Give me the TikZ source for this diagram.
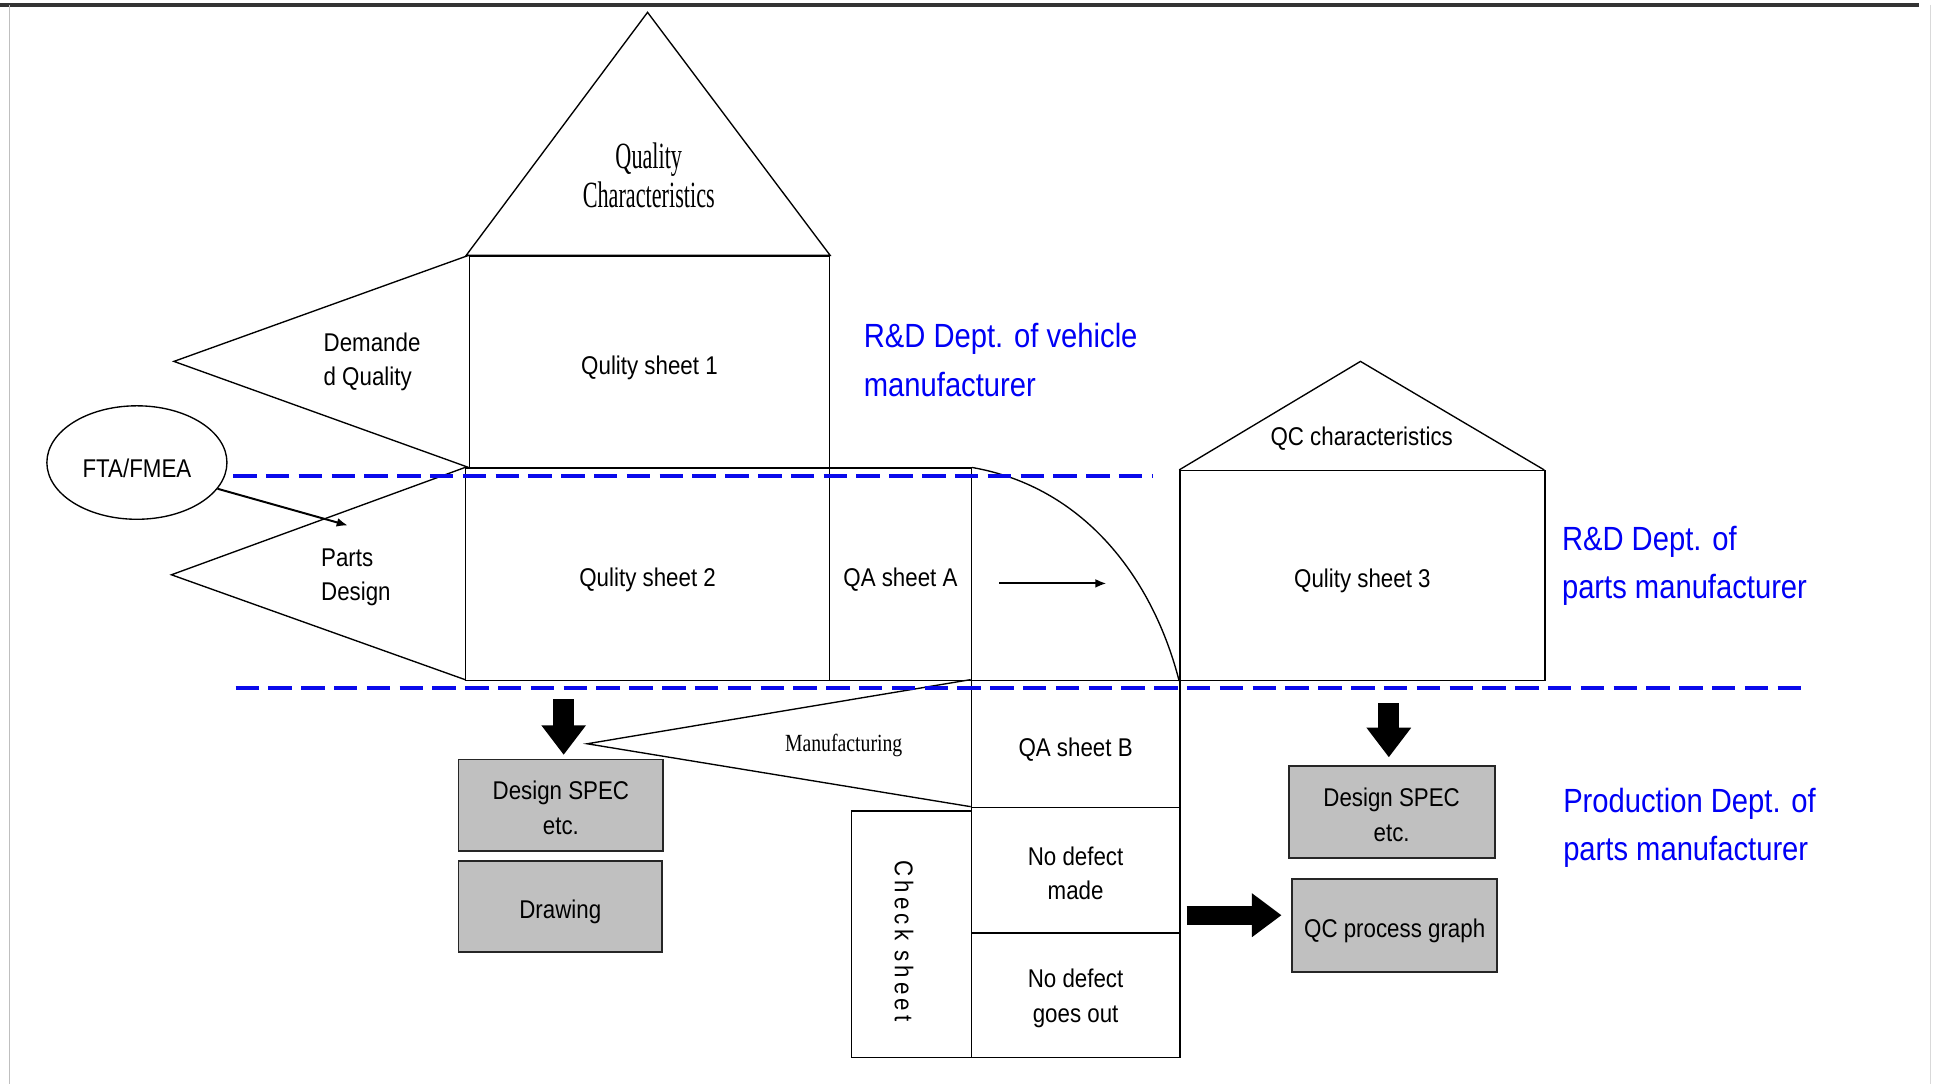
\documentclass[tikz,border=0pt]{standalone}
\usepackage{fontspec}
\setmainfont{Liberation Sans}[FakeStretch=0.87]
\newfontfamily\serifcond{Liberation Serif}[FakeStretch=0.6]
\newfontfamily\serifmid{Liberation Serif}[FakeStretch=0.8]
\newfontfamily\spacedsans{Liberation Sans}[FakeStretch=0.87,LetterSpace=16]
\usetikzlibrary{arrows.meta,shapes.geometric}
\definecolor{bluetxt}{RGB}{0,0,245}
\definecolor{dashblue}{RGB}{10,10,235}
\definecolor{boxgray}{RGB}{192,192,192}
\newcommand\lblfont{\fontsize{10.4}{14}\selectfont}
\newcommand\bluefont{\fontsize{13.6}{19.6}\selectfont}
\begin{document}
\begin{tikzpicture}[x=0.5pt,y=-0.5pt,
  ln/.style={draw=black,line width=0.55pt},
  box/.style={draw=black,line width=0.55pt,inner sep=0pt,anchor=north west},
  gbox/.style={box,fill=boxgray,draw=black!85,line width=0.75pt},
  lbl/.style={inner sep=0pt,align=center,font=\lblfont},
  onel/.style={lbl,yshift=-2.2pt},
  twol/.style={lbl,yshift=-1.2pt},
  bluelbl/.style={inner sep=0pt,align=left,anchor=west,text=bluetxt,font=\bluefont},
  dashln/.style={draw=dashblue,line width=1.6pt,dash pattern=on 9.5pt off 3.8pt},
  thinarrow/.style={draw=black,line width=0.8pt,-{Latex[length=4.5pt,width=3.6pt]}},
  blockdown/.style={draw=black,line width=8.5pt,-{Triangle[length=12pt,width=17.3pt]}},
  blockright/.style={draw=black,line width=7.7pt,-{Triangle[length=12pt,width=17pt]}}]
\useasboundingbox (0,0) rectangle (1568,879);
\fill[white] (0,0) rectangle (1568,879);
% frame
\draw[black!80,line width=1.3pt] (0,4) -- (1556,4);
\draw[black!25,line width=0.5pt] (8,4) -- (8,879);
\draw[black!15,line width=0.5pt] (1565,4) -- (1565,879);

% triangles
\draw[ln] (525,10) -- (378,207) -- (673,207) -- cycle;
\draw[ln] (380,207) -- (141,293) -- (380,379);
\draw[ln] (377,379) -- (139,466) -- (377,551);
\draw[ln] (956,381) -- (1103,293) -- (1252,381);
\draw[ln] (787,551) -- (476,603) -- (787,654);

% boxes
\node[box,minimum width=146pt,minimum height=86pt] (qs1) at (380,207) {};
\node[box,minimum width=147.5pt,minimum height=86pt] (qs2) at (377,379) {};
\node[box,minimum width=57.5pt,minimum height=86pt] (qaa) at (672,379) {};
\node[box,minimum width=148pt,minimum height=85pt] (qs3) at (956,381) {};
\node[box,minimum width=48.5pt,minimum height=100pt] (cs) at (690,657) {};
\node[box,minimum width=84.5pt,minimum height=51.5pt] (qab) at (787,551) {};
\node[box,minimum width=84.5pt,minimum height=51pt] (nd1) at (787,654) {};
\node[box,minimum width=84.5pt,minimum height=50.5pt] (nd2) at (787,756) {};

\node[gbox,minimum width=83pt,minimum height=37pt] (ds1) at (371,615) {};
\node[gbox,minimum width=82.5pt,minimum height=37pt] (dr) at (371,697) {};
\node[gbox,minimum width=83.5pt,minimum height=37.5pt] (ds2) at (1044,620) {};
\node[gbox,minimum width=83pt,minimum height=37.5pt] (qcg) at (1047,712) {};

% box texts
\node[onel] (tqs1) at (qs1.center) {Qulity sheet 1};
\node[onel] (tqs2) at (qs2.center) {Qulity sheet 2};
\node[onel] (tqaa) at (qaa.center) {QA sheet A};
\node[onel] (tqs3) at (qs3.center) {Qulity sheet 3};
\node[onel] (tqab) at (qab.center) {QA sheet B};
\node[twol] (tnd1) at (nd1.center) {No defect\\made};
\node[twol] (tnd2) at (nd2.center) {No defect\\goes out};
\node[twol] (tds1) at (ds1.center) {Design SPEC\\etc.};
\node[onel] (tdr) at (dr.center) {Drawing};
\node[twol] (tds2) at (ds2.center) {Design SPEC\\etc.};
\node[onel] (tqcg) at (qcg.center) {QC process graph};

% other texts
\node[inner sep=0pt,align=center,font=\serifcond\fontsize{15}{16}\selectfont] (qchar) at (526,142) {Quality\\Characteristics};
\node[lbl,align=left,anchor=west] (dq) at (262,293.5) {Demande\\d Quality};
\node[lbl,align=left,anchor=west] (pd) at (260,468) {Parts\\Design};
\node[lbl] (qcc) at (1104,356) {QC characteristics};
\node[inner sep=0pt,font=\serifmid\fontsize{10}{12}\selectfont] (mfg) at (684,604) {Manufacturing};
\node[inner sep=0pt,rotate=-90,font=\spacedsans\fontsize{10.4}{12}\selectfont] (cstext) at (733,763) {Check sheet};

\node[draw=black,line width=0.55pt,ellipse,inner sep=0pt,minimum width=73pt,minimum height=46pt] (fta) at (111,375) {};
\node[onel] (tfta) at (fta.center) {FTA/FMEA};

\node[bluelbl] (rdv) at (700,292) {R\&D Dept. of vehicle\\manufacturer};
\node[bluelbl] (rdp) at (1266,458.5) {R\&D Dept. of\\parts manufacturer};
\node[bluelbl] (pdp) at (1267,671) {Production Dept. of\\parts manufacturer};

% curve
\draw[ln] (qaa.north east) .. controls (880,395) and (935,470) .. (qs3.south west);

% thin arrows
\coordinate (ftaend) at (282,426);
\draw[thinarrow] (fta.-18) -- (ftaend);
\coordinate (qaas) at (810,473);
\coordinate (qaae) at (897,473);
\draw[thinarrow] (qaas) -- (qaae);

% block arrows
\coordinate (a1) at (457,567);
\draw[blockdown] (a1) -- ([yshift=1.5pt]a1 |- ds1.north);
\coordinate (a2) at (1126,570);
\draw[blockdown] (a2) -- ([yshift=3pt]a2 |- ds2.north);
\coordinate (a3) at (962,742);
\draw[blockright] (a3) -- ([xshift=-4pt]a3 -| qcg.west);

% dashed separators
\draw[dashln] (189,386) -- (935,386);
\draw[dashln] (191,558) -- (1461,558);
\end{tikzpicture}
\end{document}
